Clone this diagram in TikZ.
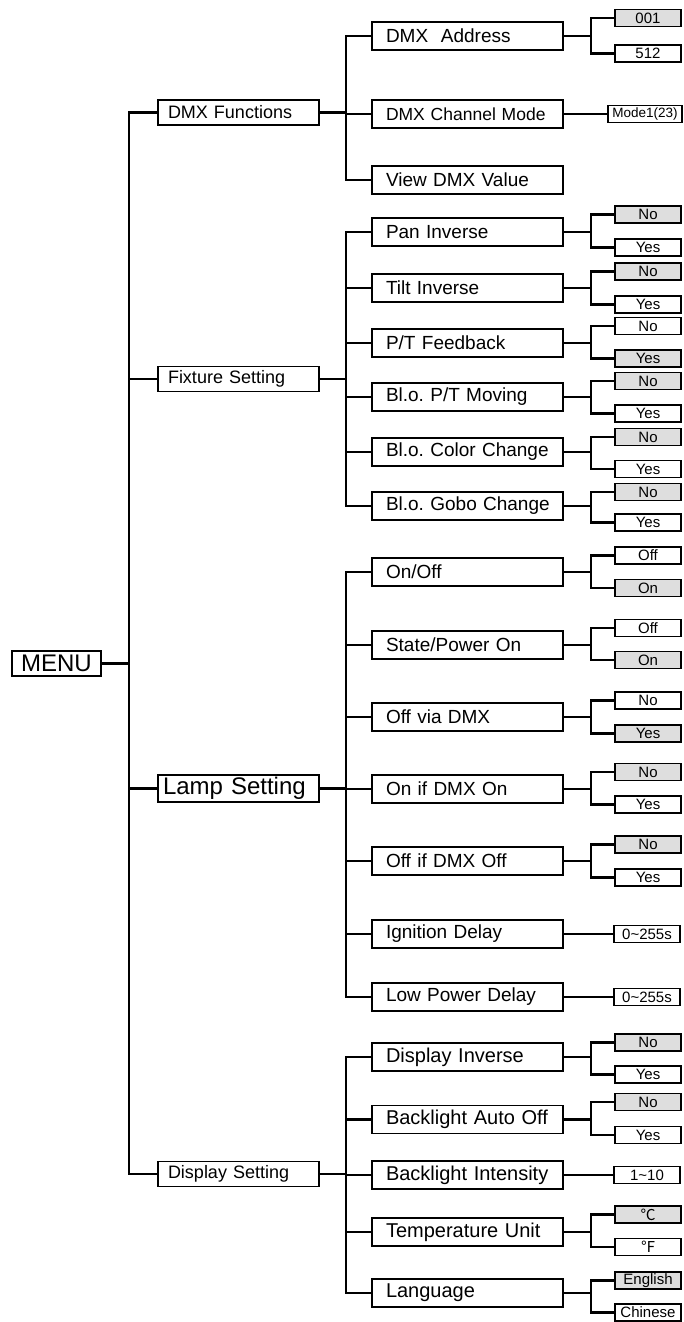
\documentclass[tikz,border=0pt]{standalone}
\usepackage{fontspec}
\setmainfont{Liberation Sans}
\newfontfamily\cjkfont{Noto Sans CJK SC}
\definecolor{optgray}{HTML}{DEDEDE}
\frenchspacing
\begin{document}
\begin{tikzpicture}[x=1pt,y=-1pt,
  box/.style={draw,line width=1.2pt,inner ysep=0pt},
  menubox/.style={box,minimum width=89pt,minimum height=25pt,font=\fontsize{24}{24}\selectfont},
  groupbox/.style={box,text width=141pt,inner xsep=10pt,align=left,minimum height=25pt,font=\fontsize{18}{18}\selectfont},
  lampbox/.style={groupbox,text width=151pt,inner xsep=5pt,minimum height=27pt,font=\fontsize{24}{24}\selectfont},
  itembox/.style={box,text width=189pt,inner xsep=1pt,align=left,minimum height=28pt,
    execute at begin node={\hspace*{13pt}},font=\fontsize{19}{19}\selectfont},
  wideitem/.style={itembox,font=\fontsize{20}{20}\selectfont},
  optbox/.style={box,minimum width=66pt,minimum height=17pt,inner xsep=0pt,font=\fontsize{15}{15}\selectfont},
  chosen/.style={fill=optgray},
  link/.style={line width=2.2pt},
]
\useasboundingbox (0,0) rectangle (684,1322);
% Root and first level
\node[menubox] (menu) at (56.5,663.5) {MENU};
\node[groupbox] (dmx) at (238.5,112.5) {DMX Functions};
\node[groupbox] (fix) at (238.5,379) {Fixture Setting};
\node[lampbox] (lamp) at (238.5,788.5) {Lamp Setting};
\node[groupbox] (disp) at (238.5,1174) {Display Setting};
\draw[link] (menu.east) -- +(27,0) |- (dmx.west);
\draw[link] (menu.east) -- +(27,0) |- (fix.west);
\draw[link] (menu.east) -- +(27,0) |- (lamp.west);
\draw[link] (menu.east) -- +(27,0) |- (disp.west);
% DMX Functions
\node[itembox] (addr) at (467.5,36) {DMX~~Address};
\node[itembox,font=\fontsize{17.5}{17.5}\selectfont] (chmode) at (467.5,114) {DMX Channel Mode};
\node[itembox] (view) at (467.5,180) {View DMX Value};
\draw[link] (dmx.east) -- +(26,0) |- (addr.west);
\draw[link] (dmx.east) -- +(26,0) |- (chmode.west);
\draw[link] (dmx.east) -- +(26,0) |- (view.west);
\node[optbox,chosen] (addrlo) at (648,18) {001};
\node[optbox] (addrhi) at (648,53.5) {512};
\draw[link] (addr.east) -- +(27,0) |- (addrlo.west);
\draw[link] (addr.east) -- +(27,0) |- (addrhi.west);
\node[optbox,minimum width=74pt,font=\fontsize{13.5}{13.5}\selectfont] (mode) at (645,114) {Mode1(23)};
\draw[link] (chmode.east) -- (mode.west);
% Fixture Setting
\node[itembox] (pan) at (467.5,232) {Pan Inverse};
\node[itembox] (tilt) at (467.5,288) {Tilt Inverse};
\node[itembox] (fb) at (467.5,343) {P/T Feedback};
\node[itembox] (mov) at (467.5,397) {Bl.o. P/T Moving};
\node[itembox] (col) at (467.5,452) {Bl.o. Color Change};
\node[itembox] (gobo) at (467.5,506) {Bl.o. Gobo Change};
\draw[link] (fix.east) -- +(26,0) |- (pan.west);
\draw[link] (fix.east) -- +(26,0) |- (tilt.west);
\draw[link] (fix.east) -- +(26,0) |- (fb.west);
\draw[link] (fix.east) -- +(26,0) |- (mov.west);
\draw[link] (fix.east) -- +(26,0) |- (col.west);
\draw[link] (fix.east) -- +(26,0) |- (gobo.west);
\node[optbox,chosen] (panno) at (648,214.5) {No};
\node[optbox] (panyes) at (648,247.5) {Yes};
\node[optbox,chosen] (tiltno) at (648,271.5) {No};
\node[optbox] (tiltyes) at (648,304.5) {Yes};
\node[optbox] (fbno) at (648,326) {No};
\node[optbox,chosen] (fbyes) at (648,358.5) {Yes};
\node[optbox,chosen] (movno) at (648,381) {No};
\node[optbox] (movyes) at (648,413.5) {Yes};
\node[optbox,chosen] (colno) at (648,437) {No};
\node[optbox] (colyes) at (648,469) {Yes};
\node[optbox,chosen] (gobono) at (648,492) {No};
\node[optbox] (goboyes) at (648,522.5) {Yes};
\draw[link] (pan.east) -- +(27,0) |- (panno.west);
\draw[link] (pan.east) -- +(27,0) |- (panyes.west);
\draw[link] (tilt.east) -- +(27,0) |- (tiltno.west);
\draw[link] (tilt.east) -- +(27,0) |- (tiltyes.west);
\draw[link] (fb.east) -- +(27,0) |- (fbno.west);
\draw[link] (fb.east) -- +(27,0) |- (fbyes.west);
\draw[link] (mov.east) -- +(27,0) |- (movno.west);
\draw[link] (mov.east) -- +(27,0) |- (movyes.west);
\draw[link] (col.east) -- +(27,0) |- (colno.west);
\draw[link] (col.east) -- +(27,0) |- (colyes.west);
\draw[link] (gobo.east) -- +(27,0) |- (gobono.west);
\draw[link] (gobo.east) -- +(27,0) |- (goboyes.west);
% Lamp Setting
\node[itembox] (onoff) at (467.5,572) {On/Off};
\node[itembox] (state) at (467.5,645) {State/Power On};
\node[itembox] (offdmx) at (467.5,717) {Off via DMX};
\node[itembox] (ondmx) at (467.5,789) {On if DMX On};
\node[itembox] (offoff) at (467.5,861) {Off if DMX Off};
\node[itembox] (ign) at (467.5,934) {Ignition Delay};
\node[itembox] (low) at (467.5,997) {Low Power Delay};
\draw[link] (lamp.east) -- +(26,0) |- (onoff.west);
\draw[link] (lamp.east) -- +(26,0) |- (state.west);
\draw[link] (lamp.east) -- +(26,0) |- (offdmx.west);
\draw[link] (lamp.east) -- +(26,0) |- (ondmx.west);
\draw[link] (lamp.east) -- +(26,0) |- (offoff.west);
\draw[link] (lamp.east) -- +(26,0) |- (ign.west);
\draw[link] (lamp.east) -- +(26,0) |- (low.west);
\node[optbox] (onoffoff) at (648,555.5) {Off};
\node[optbox,chosen] (onoffon) at (648,588) {On};
\node[optbox] (stateoff) at (648,628) {Off};
\node[optbox,chosen] (stateon) at (648,660) {On};
\node[optbox] (offdmxno) at (648,700.5) {No};
\node[optbox,chosen] (offdmxyes) at (648,733.5) {Yes};
\node[optbox,chosen] (ondmxno) at (648,772) {No};
\node[optbox] (ondmxyes) at (648,804.5) {Yes};
\node[optbox,chosen] (offoffno) at (648,844.5) {No};
\node[optbox] (offoffyes) at (648,877.5) {Yes};
\node[optbox] (ignval) at (647,934) {0\char`~255s};
\node[optbox] (lowval) at (647,997) {0\char`~255s};
\draw[link] (onoff.east) -- +(27,0) |- (onoffoff.west);
\draw[link] (onoff.east) -- +(27,0) |- (onoffon.west);
\draw[link] (state.east) -- +(27,0) |- (stateoff.west);
\draw[link] (state.east) -- +(27,0) |- (stateon.west);
\draw[link] (offdmx.east) -- +(27,0) |- (offdmxno.west);
\draw[link] (offdmx.east) -- +(27,0) |- (offdmxyes.west);
\draw[link] (ondmx.east) -- +(27,0) |- (ondmxno.west);
\draw[link] (ondmx.east) -- +(27,0) |- (ondmxyes.west);
\draw[link] (offoff.east) -- +(27,0) |- (offoffno.west);
\draw[link] (offoff.east) -- +(27,0) |- (offoffyes.west);
\draw[link] (ign.east) -- (ignval.west);
\draw[link] (low.east) -- (lowval.west);
% Display Setting
\node[wideitem] (dinv) at (467.5,1057) {Display Inverse};
\node[wideitem] (bauto) at (467.5,1119.5) {Backlight Auto Off};
\node[wideitem] (bint) at (467.5,1175) {Backlight Intensity};
\node[wideitem] (temp) at (467.5,1232) {Temperature Unit};
\node[wideitem] (lang) at (467.5,1293) {Language};
\draw[link] (disp.east) -- +(26,0) |- (dinv.west);
\draw[link] (disp.east) -- +(26,0) |- (bauto.west);
\draw[link] (disp.east) -- +(26,0) |- (bint.west);
\draw[link] (disp.east) -- +(26,0) |- (temp.west);
\draw[link] (disp.east) -- +(26,0) |- (lang.west);
\node[optbox,chosen] (dinvno) at (648,1042.5) {No};
\node[optbox] (dinvyes) at (648,1074.5) {Yes};
\node[optbox,chosen] (bautono) at (648,1102) {No};
\node[optbox] (bautoyes) at (648,1135) {Yes};
\node[optbox] (bintval) at (647,1175) {1\char`~10};
\node[optbox,chosen] (tempc) at (648,1214.5) {\cjkfont ℃};
\node[optbox] (tempf) at (648,1247) {\cjkfont ℉};
\node[optbox,chosen] (langen) at (648,1280.5) {English};
\node[optbox] (langcn) at (648,1312.5) {Chinese};
\draw[link] (dinv.east) -- +(27,0) |- (dinvno.west);
\draw[link] (dinv.east) -- +(27,0) |- (dinvyes.west);
\draw[link] (bauto.east) -- +(27,0) |- (bautono.west);
\draw[link] (bauto.east) -- +(27,0) |- (bautoyes.west);
\draw[link] (bint.east) -- (bintval.west);
\draw[link] (temp.east) -- +(27,0) |- (tempc.west);
\draw[link] (temp.east) -- +(27,0) |- (tempf.west);
\draw[link] (lang.east) -- +(27,0) |- (langen.west);
\draw[link] (lang.east) -- +(27,0) |- (langcn.west);
\end{tikzpicture}
\end{document}
